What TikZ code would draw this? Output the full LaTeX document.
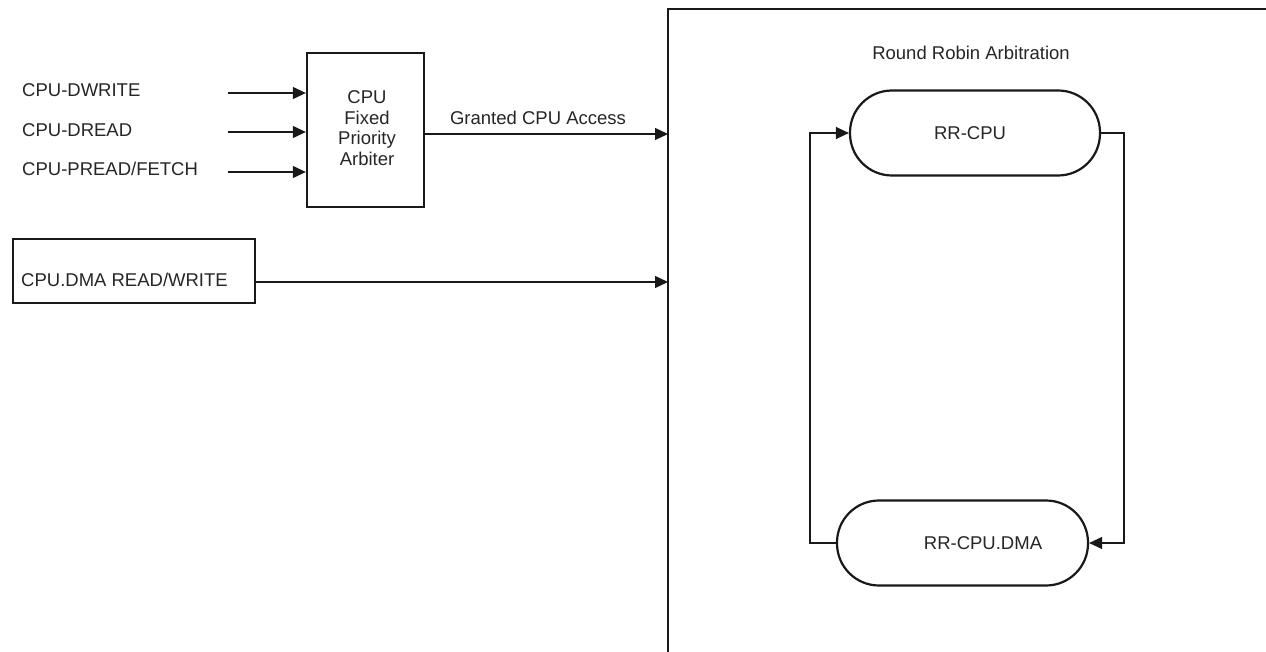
\documentclass[tikz,border=0pt]{standalone}
\usepackage{fontspec}
\setmainfont{Liberation Sans}
\usetikzlibrary{arrows.meta}
\begin{document}
\begin{tikzpicture}[x=1pt,y=-1pt,
  every node/.style={font=\fontsize{18.5}{20.7}\selectfont, text=black!85},
  box/.style={draw=black!90, line width=2.3pt, inner sep=0pt},
  stadium/.style={draw=black!90, line width=2.2pt, rounded corners=42pt, minimum width=#1, minimum height=85pt, inner sep=0pt},
  conn/.style={draw=black!90, line width=1.2pt},
  arr/.style={conn, -{Triangle[length=13pt,width=12pt]}},
  lbl/.style={inner sep=0pt}
]
\clip (0,0) rectangle (1266,652);
\fill[white] (0,0) rectangle (1266,652);

% big region
\draw[line width=2.2pt, black!90] (668,660) -- (668,9) -- (1275,9);
\coordinate (inG) at (668,134);
\coordinate (inD) at (668,282);

\node[lbl] (rrtitle) at (971,53) {Round Robin Arbitration};

% arbiter
\node[box, minimum width=117pt, minimum height=154pt] (arb) at (365.5,130) {};
\node[lbl, align=center] (arbT) at (367,128) {CPU\\Fixed\\Priority\\Arbiter};

% inputs
\node[lbl, anchor=west] (l1) at (22,90) {CPU-DWRITE};
\node[lbl, anchor=west] (l2) at (22,130) {CPU-DREAD};
\node[lbl, anchor=west] (l3) at (22,169) {CPU-PREAD/FETCH};
\coordinate (s1) at (228,93);
\coordinate (s2) at (228,132);
\coordinate (s3) at (228,172);
\draw[arr] (s1) -- (s1 -| arb.west);
\draw[arr] (s2) -- (s2 -| arb.west);
\draw[arr] (s3) -- (s3 -| arb.west);

% granted
\draw[arr] (inG -| arb.east) -- (inG);
\node[lbl] (gT) at (538,118) {Granted CPU Access};

% DMA box
\node[box, minimum width=242pt, minimum height=64pt] (dma) at (134,271) {};
\node[lbl, anchor=west] (dmaT) at (21,280) {CPU.DMA READ/WRITE};
\draw[arr] (inD -| dma.east) -- (inD);

% round robin
\node[stadium=250pt] (rr1) at (975,133) {};
\node[lbl] (rr1T) at (970,133) {RR-CPU};
\node[stadium=251pt] (rr2) at (962.5,543) {};
\node[lbl] (rr2T) at (983,543) {RR-CPU.DMA};

\draw[arr] (rr1.east) -- (1124,133) -- (1124,543) -- (rr2.east);
\draw[arr] (rr2.west) -- (810,543) -- (810,133) -- (rr1.west);
\end{tikzpicture}
\end{document}
